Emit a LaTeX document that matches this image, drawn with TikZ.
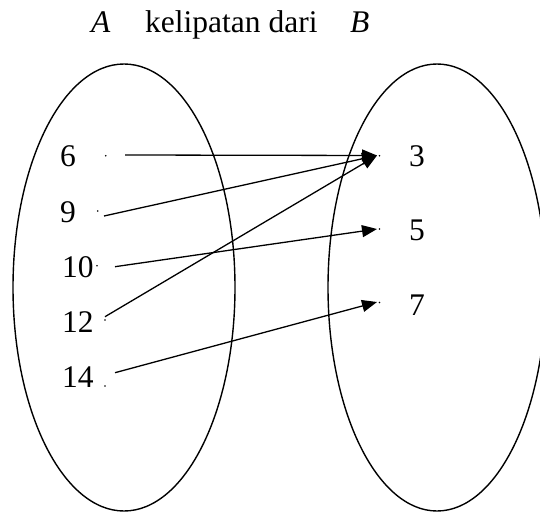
\documentclass[tikz,border=0pt]{standalone}
\usepackage{fontspec}
\setmainfont{Liberation Serif}
\usetikzlibrary{arrows.meta}
\tikzset{
  lbl/.style={anchor=base west, inner sep=0pt, font=\fontsize{31.5}{36}\selectfont},
  ttl/.style={anchor=base west, inner sep=0pt, font=\fontsize{31.5}{36}\selectfont},
  setshape/.style={draw, line width=1.4pt},
  dotmark/.style={circle, fill=black, inner sep=0pt, minimum size=1.8pt},
  mapto/.style={line width=1.3pt, -{Triangle[length=15pt,width=12pt]}}
}
\begin{document}
\begin{tikzpicture}[x=1pt,y=-1pt]
\useasboundingbox (0,0) rectangle (540,513);
% title
\node[ttl] (tA) at (91,33) {\textit{A}};
\node[ttl] (tK) at (145,33) {kelipatan dari};
\node[ttl] (tB) at (350,33) {\textit{B}};
% sets
\draw[setshape] (124,287.5) ellipse [x radius=111pt, y radius=223.5pt];
\draw[setshape] (437,287.5) ellipse [x radius=109pt, y radius=223.5pt];
% domain labels
\node[lbl] (n6) at (60,167) {6};
\node[lbl] (n9) at (60,222) {9};
\node[lbl] (n10) at (62,277) {10};
\node[lbl] (n12) at (62,332) {12};
\node[lbl] (n14) at (62,387) {14};
\node[dotmark] (d6) at (105.7,155.7) {};
\node[dotmark] (d9) at (97.7,211) {};
\node[dotmark] (d10) at (97,265.7) {};
\node[dotmark] (d12) at (105,320) {};
\node[dotmark] (d14) at (105,386) {};
% codomain labels
\node[lbl] (r3) at (409,167) {3};
\node[lbl] (r5) at (409,240) {5};
\node[lbl] (r7) at (409,315) {7};
\node[dotmark] (e3) at (379.5,155.7) {};
\node[dotmark] (e5) at (379.5,229) {};
\node[dotmark] (e7) at (379.5,302.5) {};
% arrow ends
\coordinate (s6) at (125,155);
\coordinate (s9) at (104,216);
\coordinate (s10) at (115,266.7);
\coordinate (s12) at (105,316.7);
\coordinate (s14) at (115,372.7);
\coordinate (t3) at (377,155.5);
\coordinate (t5) at (377,229);
\coordinate (t7) at (377,302);
\draw[mapto] (s6) -- (t3);
\draw[mapto] (s9) -- (t3);
\draw[mapto] (s12) -- (t3);
\draw[mapto] (s10) -- (t5);
\draw[mapto] (s14) -- (t7);
\end{tikzpicture}
\end{document}
